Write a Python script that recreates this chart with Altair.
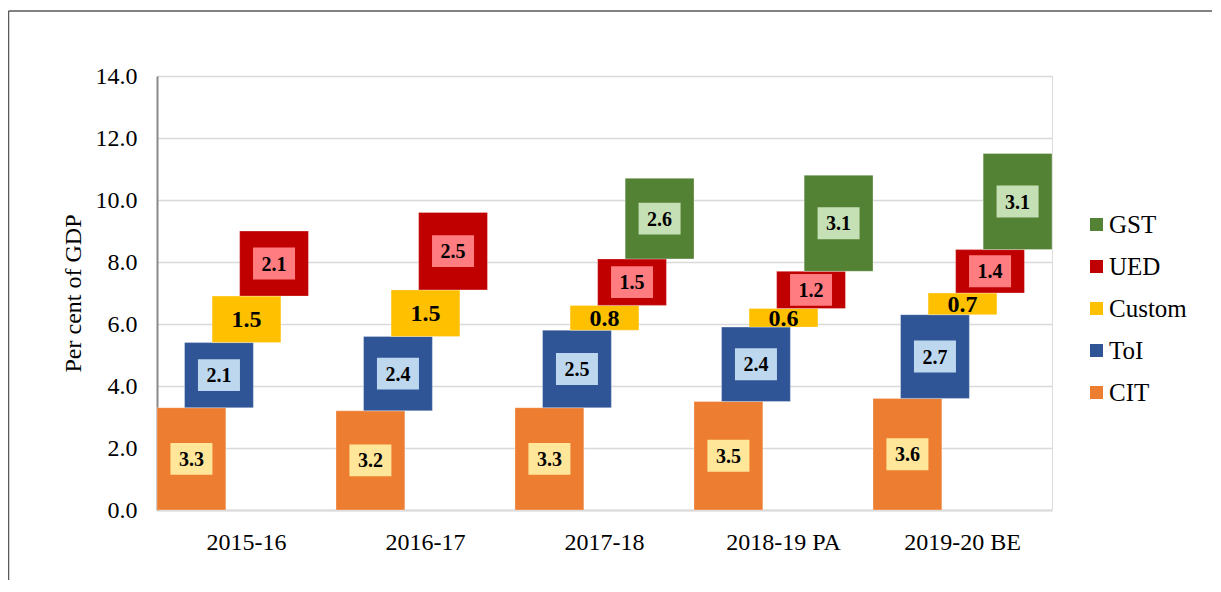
import altair as alt
import pandas as pd

years = ["2015-16", "2016-17", "2017-18", "2018-19 PA", "2019-20 BE"]
series = ["CIT", "ToI", "Custom", "UED", "GST"]
cit = [3.3, 3.2, 3.3, 3.5, 3.6]
toi = [2.1, 2.4, 2.5, 2.4, 2.7]
custom = [1.5, 1.5, 0.8, 0.6, 0.7]
ued = [2.1, 2.5, 1.5, 1.2, 1.4]
gst = [None, None, 2.6, 3.1, 3.1]
y_ticks = [0, 2, 4, 6, 8, 10, 12, 14]

legend_order = ["GST", "UED", "Custom", "ToI", "CIT"]
bar_colors = ["#548235", "#C00000", "#FFC000", "#2F5597", "#ED7D31"]
box_series = ["CIT", "ToI", "UED", "GST"]
box_colors = ["#FFE699", "#BDD7EE", "#FF7C80", "#C5E0B4"]

FONT = "Liberation Serif"

rows = []
for i, yr in enumerate(years):
    base = 0.0
    for s, vals in zip(series, [cit, toi, custom, ued, gst]):
        v = vals[i]
        if v is None:
            continue
        rows.append(dict(year=yr, series=s, value=v, y0=base, y1=base + v, mid=base + v / 2))
        base += v
df = pd.DataFrame(rows)

x_enc = alt.X("year:N", sort=years,
              scale=alt.Scale(paddingInner=0, paddingOuter=0),
              axis=alt.Axis(title=None, labelAngle=0, labelFont=FONT, labelFontSize=24,
                            labelColor="#000000", ticks=False, tickSize=0, labelPadding=20,
                            domainColor="#D9D9D9", domainWidth=2, grid=False))
xo_enc = alt.XOffset("series:N", sort=series,
                     scale=alt.Scale(paddingInner=0, paddingOuter=0.75))

base = alt.Chart(df)

bars = base.mark_bar(width=68.85, opacity=1, stroke="#ffffff", strokeWidth=0.5, strokeOpacity=0.6).encode(
    x=x_enc,
    xOffset=xo_enc,
    y=alt.Y("y0:Q", scale=alt.Scale(domain=[0, 14], nice=False),
            axis=alt.Axis(values=y_ticks, format=".1f", title="Per cent of GDP",
                          titleFont=FONT, titleFontSize=24, titleFontWeight="normal",
                          titleColor="#000000", titleX=-84, titleY=217, titleBaseline="middle",
                          titleAngle=-90,
                          labelFont=FONT, labelFontSize=24, labelColor="#000000",
                          ticks=False, tickSize=0, labelPadding=20,
                          domainColor="#898989", domainWidth=2,
                          gridColor="#D9D9D9", gridWidth=1.5)),
    y2="y1:Q",
    color=alt.Color("series:N",
                    scale=alt.Scale(domain=legend_order, range=bar_colors),
                    legend=alt.Legend(orient="none", legendX=927, legendY=136, title=None,
                                      symbolType="square", symbolSize=169, symbolStrokeWidth=0,
                                      labelFont=FONT, labelFontSize=25, labelColor="#000000",
                                      rowPadding=16, labelOffset=0)),
)

boxes = base.transform_filter(
    alt.FieldOneOfPredicate(field="series", oneOf=box_series)
).mark_point(
    shape="M-1,-0.76H1V0.76H-1Z", filled=True, opacity=1, strokeWidth=0, size=1764
).encode(
    x=alt.X("year:N", sort=years),
    xOffset=alt.XOffset("series:N", sort=series),
    y=alt.Y("mid:Q"),
    fill=alt.Fill("series:N", scale=alt.Scale(domain=box_series, range=box_colors), legend=None),
)

texts = base.mark_text(font=FONT, fontWeight="bold", color="#000000", baseline="middle", dy=1).encode(
    x=alt.X("year:N", sort=years),
    xOffset=alt.XOffset("series:N", sort=series),
    y=alt.Y("mid:Q"),
    text=alt.Text("value:Q", format=".1f"),
    size=alt.condition("datum.series == 'Custom'", alt.value(24), alt.value(20)),
)

one = pd.DataFrame({"k": [0]})
frame_top = alt.Chart(one).mark_rule(color="#595959", strokeWidth=1.5).encode(
    x=alt.value(-148.5), x2=alt.value(1060), y=alt.value(-65))
frame_left = alt.Chart(one).mark_rule(color="#595959", strokeWidth=1.5).encode(
    x=alt.value(-148.5), y=alt.value(-65), y2=alt.value(520))

chart = alt.layer(frame_top, frame_left, bars, boxes, texts).properties(
    width=895, height=434,
    autosize=alt.AutoSizeParams(type="none"),
    padding={"left": 149, "top": 68, "right": 160, "bottom": 70},
).configure_view(stroke=None).configure(background="#ffffff", font=FONT)

chart.save("out.html", embed_options={"renderer": "svg", "actions": False})
